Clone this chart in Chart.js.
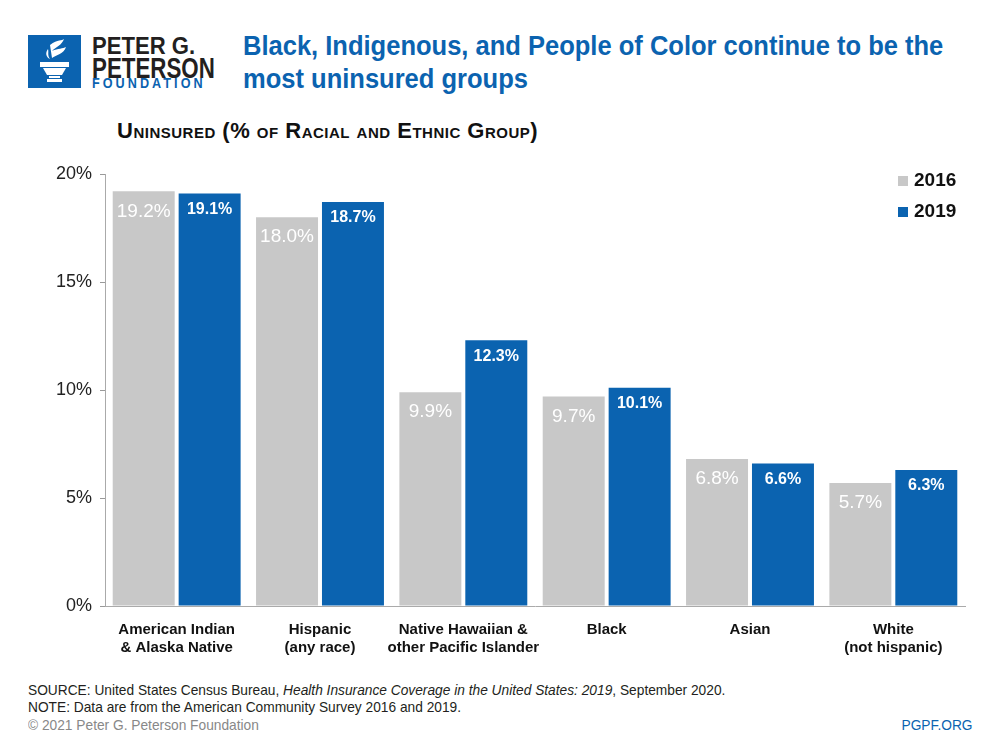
<!DOCTYPE html>
<html>
<head>
<meta charset="utf-8">
<script src="https://cdn.jsdelivr.net/npm/chart.js@4"></script>
<style>
    html, body { margin: 0; padding: 0; background: #fff; }
    #page { position: relative; width: 1000px; height: 750px; overflow: hidden; font-family: "Liberation Sans", sans-serif; }
    #logo-box { position: absolute; left: 28px; top: 35px; width: 53px; height: 53px; background: #0b63b0; }
    .logo-txt { position: absolute; left: 92px; color: #231f20; font-weight: bold; white-space: nowrap; transform-origin: left top; }
    #title { position: absolute; left: 243px; top: 30px; color: #0b63b0; font-weight: bold; font-size: 27px; line-height: 33px; white-space: nowrap; transform: scaleX(0.945); transform-origin: left top; }
    #subtitle { position: absolute; left: 117px; top: 118px; font-weight: bold; font-size: 22px; font-variant: small-caps; color: #111; letter-spacing: 0.5px; white-space: nowrap; }
    #chart-wrap { position: absolute; left: 0; top: 150px; width: 1000px; height: 520px; }
    #legend { position: absolute; left: 898px; top: 168px; font-weight: bold; font-size: 19px; color: #111; }
    #legend div { height: 31px; line-height: 24px; }
    #legend span.sw { display: inline-block; width: 10px; height: 10px; margin-right: 6px; }
    .foot { position: absolute; left: 28px; font-size: 15px; color: #231f20; white-space: nowrap; transform: scaleX(0.916); transform-origin: left top; }
</style>
</head>
<body>
<div id="page">
    <div id="logo-box">
        <svg width="53" height="53" viewBox="0 0 53 53">
            <path d="M22 10 C30 4 34 6 36 4 C34 10 28 12 24 16 C30 13 35 14 38 12 C36 19 28 20 24 23 Z" fill="#fff"/>
            <path d="M20 14 C17 18 18 22 22 24 C19 20 21 17 20 14 Z" fill="#fff"/>
            <rect x="12" y="27" width="29" height="5" fill="#fff"/>
            <path d="M15 33 L38 33 L34 40 L19 40 Z" fill="#fff"/>
            <rect x="21" y="41" width="11" height="2" fill="#fff"/>
            <rect x="19" y="44" width="15" height="3" fill="#fff"/>
        </svg>
    </div>
    <div class="logo-txt" style="top:34px;font-size:24px;line-height:24px;transform:scaleX(0.92);">PETER G.</div>
    <div class="logo-txt" style="top:54px;font-size:29px;line-height:29px;transform:scaleX(0.77);">PETERSON</div>
    <div class="logo-txt" style="top:76px;font-size:14px;line-height:14px;color:#0b63b0;letter-spacing:3.4px;transform:scaleX(0.9);">FOUNDATION</div>

    <div id="title">Black, Indigenous, and People of Color continue to be the<br>most uninsured groups</div>
    <div id="subtitle">Uninsured (% of Racial and Ethnic Group)</div>

    <div id="chart-wrap"><canvas id="barChart"></canvas></div>
    <div id="legend"></div>

    <div class="foot" style="top:681px;">SOURCE: United States Census Bureau, <i>Health Insurance Coverage in the United States: 2019</i>, September 2020.</div>
    <div class="foot" style="top:698px;">NOTE: Data are from the American Community Survey 2016 and 2019.</div>
    <div class="foot" style="top:716px;color:#888;">© 2021 Peter G. Peterson Foundation</div>
    <div class="foot" style="top:716px;left:auto;right:27px;color:#0b63b0;transform-origin:right top;">PGPF.ORG</div>
</div>

<script>
const categories = [
    ['American Indian', '& Alaska Native'],
    ['Hispanic', '(any race)'],
    ['Native Hawaiian &', 'other Pacific Islander'],
    ['Black'],
    ['Asian'],
    ['White', '(not hispanic)']
];
const seriesNames = ['2016', '2019'];
const values2016 = [19.2, 18.0, 9.9, 9.7, 6.8, 5.7];
const values2019 = [19.1, 18.7, 12.3, 10.1, 6.6, 6.3];
const seriesColors = ['#c8c8c8', '#0b63b0'];
const yTicks = [0, 5, 10, 15, 20];

// value labels inside the top of each bar
const barLabels = {
    id: 'barLabels',
    afterDatasetsDraw(chart) {
        const ctx = chart.ctx;
        ctx.save();
        ctx.fillStyle = '#fff';
        ctx.textAlign = 'center';
        ctx.textBaseline = 'middle';
        chart.data.datasets.forEach(function (ds, i) {
            const meta = chart.getDatasetMeta(i);
            ctx.font = i === 0 ? '19px "Liberation Sans", sans-serif' : 'bold 16px "Liberation Sans", sans-serif';
            const off = i === 0 ? 20 : 16;
            meta.data.forEach(function (bar, j) {
                ctx.fillText(ds.data[j].toFixed(1) + '%', bar.x, bar.y + off);
            });
        });
        ctx.restore();
    }
};

function initChart() {
    const ctx = document.getElementById('barChart').getContext('2d');
    new Chart(ctx, {
        type: 'bar',
        data: {
            labels: categories,
            datasets: [
                { label: seriesNames[0], data: values2016, backgroundColor: seriesColors[0] },
                { label: seriesNames[1], data: values2019, backgroundColor: seriesColors[1] }
            ]
        },
        options: {
            responsive: true,
            maintainAspectRatio: false,
            animation: false,
            categoryPercentage: 0.92,
            barPercentage: 0.94,
            layout: { padding: { left: 0, right: 35, top: 24, bottom: 0 } },
            plugins: {
                legend: { display: false },
                tooltip: { enabled: false }
            },
            scales: {
                x: {
                    grid: { display: false },
                    border: { display: true, color: '#aaa', width: 1 },
                    ticks: {
                        color: '#111',
                        font: { family: '"Liberation Sans", sans-serif', weight: 'bold', size: 15 },
                        padding: 7,
                        maxRotation: 0,
                        autoSkip: false
                    },
                    afterFit(scale) { scale.height = 64; }
                },
                y: {
                    min: 0,
                    max: 20,
                    afterBuildTicks(scale) { scale.ticks = yTicks.map(v => ({ value: v })); },
                    grid: { drawOnChartArea: false, drawTicks: true, tickLength: 5, color: '#999' },
                    border: { display: true, color: '#aaa', width: 1 },
                    ticks: {
                        color: '#222',
                        font: { family: '"Liberation Sans", sans-serif', size: 18 },
                        padding: 8,
                        callback: v => v + '%'
                    },
                    afterFit(scale) { scale.width = 105; }
                }
            }
        },
        plugins: [barLabels]
    });
}

function buildLegend() {
    const el = document.getElementById('legend');
    seriesNames.forEach(function (name, i) {
        const row = document.createElement('div');
        row.innerHTML = '<span class="sw" style="background:' + seriesColors[i] + '"></span>' + name;
        el.appendChild(row);
    });
}

buildLegend();
initChart();
</script>
</body>
</html>
